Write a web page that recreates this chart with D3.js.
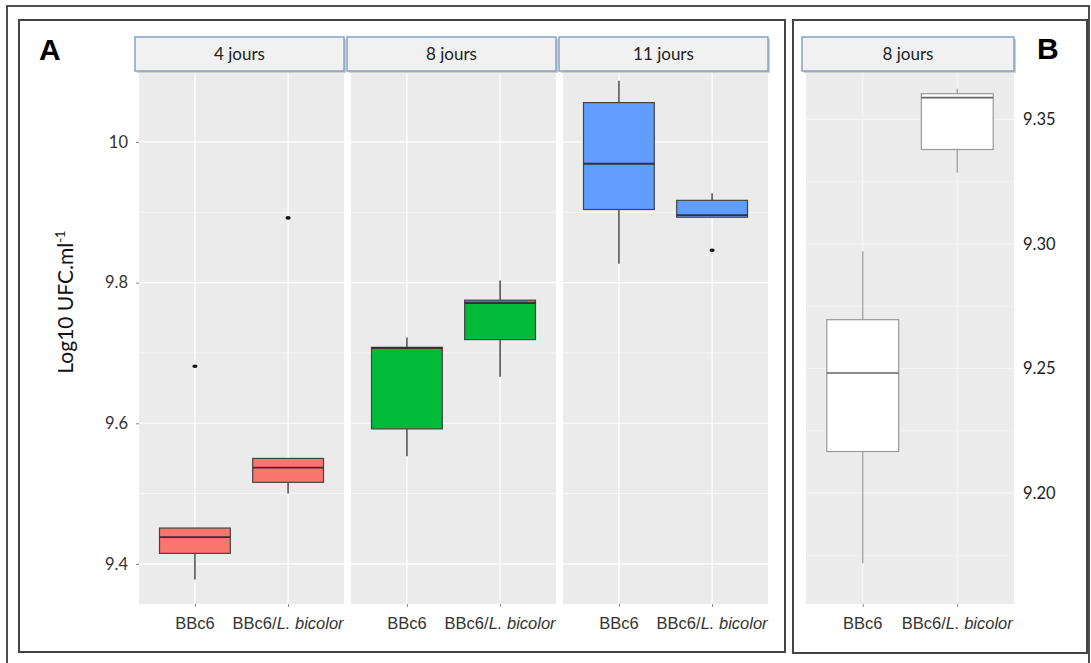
<!DOCTYPE html>
<html>
<head>
<meta charset="utf-8">
<script src="https://cdn.jsdelivr.net/npm/d3@7"></script>
<style>
  body { margin: 0; background: #fff; }
  svg { display: block; }
</style>
</head>
<body>
<div id="chart"></div>
<script>
// panel A : days x strain
const days = ['4 jours', '8 jours', '11 jours'];
const groups = ['BBc6', 'BBc6/L. bicolor'];

const boxDay   = ['4 jours', '4 jours', '8 jours', '8 jours', '11 jours', '11 jours'];
const boxGroup = ['BBc6', 'BBc6/L. bicolor', 'BBc6', 'BBc6/L. bicolor', 'BBc6', 'BBc6/L. bicolor'];
const lowA  = [9.378, 9.500, 9.553, 9.666, 9.827, 9.893];
const q1A   = [9.415, 9.516, 9.592, 9.719, 9.904, 9.893];
const medA  = [9.438, 9.537, 9.707, 9.771, 9.969, 9.896];
const q3A   = [9.451, 9.550, 9.708, 9.775, 10.056, 9.917];
const highA = [9.451, 9.550, 9.722, 9.803, 10.087, 9.927];

const outDay   = ['4 jours', '4 jours', '11 jours'];
const outGroup = ['BBc6', 'BBc6/L. bicolor', 'BBc6/L. bicolor'];
const outValue = [9.681, 9.892, 9.846];

const ticksA = [9.4, 9.6, 9.8, 10];
const minorA = [9.5, 9.7, 9.9];
const dayColors = ['#f8766d', '#00ba38', '#619cff'];

// panel B : 8 jours only
const dayB = '8 jours';
const lowB  = [9.1719, 9.3286];
const q1B   = [9.2167, 9.3379];
const medB  = [9.2482, 9.3587];
const q3B   = [9.2696, 9.3603];
const highB = [9.2971, 9.3623];
const ticksB = [9.20, 9.25, 9.30, 9.35];
const minorB = [9.175, 9.225, 9.275, 9.325];

const W = 1091, H = 663;
const svg = d3.select('#chart').append('svg')
  .attr('width', W)
  .attr('height', H);

const plotTop = 72, plotBottom = 604;

// frames
svg.append('rect')
  .attr('x', 7).attr('y', 6).attr('width', 1082).attr('height', 680)
  .attr('fill', 'none').attr('stroke', '#222').attr('stroke-width', 1.6);
svg.append('rect')
  .attr('x', 19).attr('y', 20).attr('width', 766).attr('height', 632)
  .attr('fill', '#fff').attr('stroke', '#444').attr('stroke-width', 2);
svg.append('rect')
  .attr('x', 793).attr('y', 20).attr('width', 294).attr('height', 633)
  .attr('fill', '#fff').attr('stroke', '#444').attr('stroke-width', 2);

const yA = d3.scaleLinear().domain([9.343, 10.0995]).range([plotBottom, plotTop]);
const yB = d3.scaleLinear().domain([9.1555, 9.369]).range([plotBottom, plotTop]);

const panelX = d3.scaleBand()
  .domain(days)
  .range([139, 768])
  .paddingInner(0.033);

function xScaleFor(x0, w) {
  return d3.scalePoint().domain(groups).range([x0, x0 + w]).padding(0.6);
}

function strip(x0, w, label) {
  svg.append('rect')
    .attr('x', x0 - 2).attr('y', 39).attr('width', w + 4).attr('height', 34)
    .attr('fill', '#cfcfcf');
  svg.append('rect')
    .attr('x', x0 - 4).attr('y', 37).attr('width', w + 4).attr('height', 34)
    .attr('fill', '#f1f1f1').attr('stroke', '#7f9cc4').attr('stroke-width', 1.4);
  svg.append('text')
    .attr('x', x0 - 2 + w / 2).attr('y', 60)
    .attr('text-anchor', 'middle')
    .style('font-family', 'Lato, "Open Sans", sans-serif')
    .style('font-size', '17px')
    .attr('fill', '#222')
    .text(label);
}

function panelBg(x0, w, y, ticks, minor, bg, grid, xs) {
  const g = svg.append('g');
  g.append('rect').attr('x', x0).attr('y', plotTop).attr('width', w).attr('height', plotBottom - plotTop).attr('fill', bg);
  g.selectAll('.minor').data(minor).join('line')
    .attr('x1', x0).attr('x2', x0 + w)
    .attr('y1', d => y(d)).attr('y2', d => y(d))
    .attr('stroke', grid).attr('stroke-width', 0.6);
  g.selectAll('.major').data(ticks).join('line')
    .attr('x1', x0).attr('x2', x0 + w)
    .attr('y1', d => y(d)).attr('y2', d => y(d))
    .attr('stroke', grid).attr('stroke-width', 1.2);
  g.selectAll('.vmajor').data(groups).join('line')
    .attr('x1', d => xs(d)).attr('x2', d => xs(d))
    .attr('y1', plotTop).attr('y2', plotBottom)
    .attr('stroke', grid).attr('stroke-width', 1.2);
}

function xLabels(xs) {
  const ax = svg.append('g')
    .attr('transform', `translate(0, ${plotBottom})`)
    .call(d3.axisBottom(xs).tickSize(3).tickFormat(''));
  ax.select('.domain').remove();
  ax.selectAll('.tick line').attr('stroke', '#888');
  groups.forEach(gr => {
    const t = svg.append('text')
      .attr('x', xs(gr)).attr('y', 629)
      .attr('text-anchor', 'middle')
      .style('font-family', '"Liberation Sans", Arial, sans-serif')
      .style('font-size', '16.5px')
      .attr('fill', '#333');
    const parts = gr.split('/');
    t.append('tspan').text(parts[0]);
    if (parts.length > 1) {
      t.append('tspan').text('/');
      t.append('tspan').style('font-style', 'italic').text(parts[1]);
    }
  });
}

// panel A
days.forEach((day, di) => {
  const x0 = panelX(day), w = panelX.bandwidth();
  const xs = xScaleFor(x0, w);
  panelBg(x0, w, yA, ticksA, minorA, '#ebebeb', '#ffffff', xs);
  strip(x0, w, day);
  xLabels(xs);

  const bw = xs.step() * 0.76;
  const idx = d3.range(boxDay.length).filter(i => boxDay[i] === day);
  const g = svg.append('g');
  idx.forEach(i => {
    const cx = xs(boxGroup[i]);
    g.append('line')
      .attr('x1', cx).attr('x2', cx).attr('y1', yA(highA[i])).attr('y2', yA(q3A[i]))
      .attr('stroke', '#555').attr('stroke-width', 1.6);
    g.append('line')
      .attr('x1', cx).attr('x2', cx).attr('y1', yA(q1A[i])).attr('y2', yA(lowA[i]))
      .attr('stroke', '#555').attr('stroke-width', 1.6);
    g.append('rect')
      .attr('x', cx - bw / 2).attr('y', yA(q3A[i]))
      .attr('width', bw).attr('height', yA(q1A[i]) - yA(q3A[i]))
      .attr('fill', dayColors[di]).attr('stroke', '#444').attr('stroke-width', 1.2);
    g.append('line')
      .attr('x1', cx - bw / 2).attr('x2', cx + bw / 2)
      .attr('y1', yA(medA[i])).attr('y2', yA(medA[i]))
      .attr('stroke', '#333').attr('stroke-width', 1.8);
  });
  d3.range(outDay.length).filter(i => outDay[i] === day).forEach(i => {
    g.append('ellipse')
      .attr('cx', xs(outGroup[i])).attr('cy', yA(outValue[i]))
      .attr('rx', 2.6).attr('ry', 1.8).attr('fill', '#111');
  });
});

const axA = svg.append('g')
  .attr('transform', `translate(${panelX(days[0])}, 0)`)
  .call(d3.axisLeft(yA).tickValues(ticksA).tickSize(3).tickPadding(8)
    .tickFormat(d => d3.format('~g')(d)));
axA.select('.domain').remove();
axA.selectAll('.tick line').attr('stroke', '#888');
axA.selectAll('.tick text')
  .style('font-family', 'Lato, "Open Sans", sans-serif')
  .style('font-size', '16.5px')
  .attr('fill', '#333');

const title = svg.append('text')
  .attr('transform', 'translate(73, 302) rotate(-90)')
  .attr('text-anchor', 'middle')
  .style('font-family', 'Lato, "Open Sans", sans-serif')
  .style('font-size', '21px')
  .attr('fill', '#111');
title.append('tspan').text('Log10 UFC.ml');
title.append('tspan').attr('dy', -8).style('font-size', '13px').text('-1');

// panel B
const xB0 = 806, wB = 208;
const xsB = xScaleFor(xB0, wB);
panelBg(xB0, wB, yB, ticksB, minorB, '#ececec', '#f6f6f6', xsB);
strip(xB0, wB, dayB);
xLabels(xsB);

const bwB = xsB.step() * 0.76;
const gB = svg.append('g');
groups.forEach((gr, i) => {
  const cx = xsB(gr);
  gB.append('line')
    .attr('x1', cx).attr('x2', cx).attr('y1', yB(highB[i])).attr('y2', yB(q3B[i]))
    .attr('stroke', '#999').attr('stroke-width', 1.2);
  gB.append('line')
    .attr('x1', cx).attr('x2', cx).attr('y1', yB(q1B[i])).attr('y2', yB(lowB[i]))
    .attr('stroke', '#999').attr('stroke-width', 1.2);
  gB.append('rect')
    .attr('x', cx - bwB / 2).attr('y', yB(q3B[i]))
    .attr('width', bwB).attr('height', yB(q1B[i]) - yB(q3B[i]))
    .attr('fill', '#fff').attr('stroke', '#999').attr('stroke-width', 1.2);
  gB.append('line')
    .attr('x1', cx - bwB / 2).attr('x2', cx + bwB / 2)
    .attr('y1', yB(medB[i])).attr('y2', yB(medB[i]))
    .attr('stroke', '#666').attr('stroke-width', 1.6);
});

const axB = svg.append('g')
  .attr('transform', `translate(${xB0 + wB}, 0)`)
  .call(d3.axisRight(yB).tickValues(ticksB).tickSize(0).tickPadding(9)
    .tickFormat(d3.format('.2f')));
axB.select('.domain').remove();
axB.selectAll('.tick text')
  .style('font-family', 'Lato, "Open Sans", sans-serif')
  .style('font-size', '16.5px')
  .attr('fill', '#222');

// panel letters
svg.append('text').attr('x', 39).attr('y', 60)
  .style('font-family', '"Liberation Sans", Arial, sans-serif')
  .style('font-size', '30px').style('font-weight', 'bold')
  .text('A');
svg.append('text').attr('x', 1037).attr('y', 59)
  .style('font-family', '"Liberation Sans", Arial, sans-serif')
  .style('font-size', '30px').style('font-weight', 'bold')
  .text('B');
</script>
</body>
</html>
